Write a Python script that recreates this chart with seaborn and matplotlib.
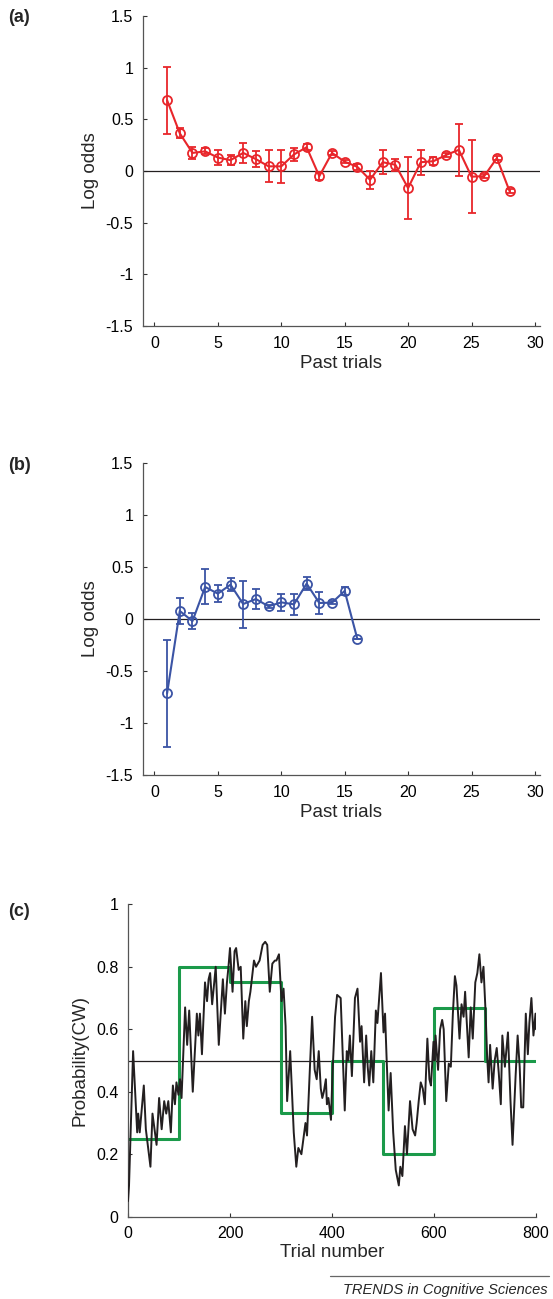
import numpy as np
import pandas as pd
import matplotlib
matplotlib.use('Agg')
import matplotlib.pyplot as plt
import seaborn as sns

# Panel (a): red series, influence of past trials
past_a = list(range(1, 29))
logodds_a = [0.685, 0.365, 0.175, 0.19, 0.13, 0.105, 0.175, 0.115, 0.045, 0.045,
             0.16, 0.23, -0.05, 0.175, 0.09, 0.04, -0.085, 0.085, 0.06, -0.165,
             0.085, 0.095, 0.155, 0.205, -0.055, -0.05, 0.125, -0.195]
err_a = [0.325, 0.05, 0.055, 0.03, 0.075, 0.045, 0.1, 0.08, 0.155, 0.16,
         0.06, 0.03, 0.04, 0.02, 0.015, 0.03, 0.085, 0.115, 0.06, 0.3,
         0.12, 0.04, 0.02, 0.25, 0.355, 0.02, 0.02, 0.02]

# Panel (b): blue series
past_b = list(range(1, 17))
logodds_b = [-0.715, 0.077, -0.02, 0.308, 0.244, 0.33, 0.144, 0.192, 0.122, 0.16,
             0.141, 0.34, 0.154, 0.157, 0.27, -0.192]
err_b = [0.515, 0.128, 0.077, 0.168, 0.08, 0.064, 0.226, 0.1, 0.015, 0.08,
         0.098, 0.064, 0.11, 0.015, 0.04, 0.0]

# Panel (c): block probabilities (green) and running estimate (black)
block_start = [0, 100, 200, 300, 400, 500, 600, 700, 800]
block_p = [0.25, 0.8, 0.75, 1/3, 0.5, 0.2, 2/3, 0.5, 0.5]

trial_t = [0, 2, 10, 18, 20, 23, 31, 35, 44, 48, 56, 61, 66, 71, 75, 79, 84, 88, 92, 95,
           99, 102, 105, 112, 116, 120, 127, 135, 138, 141, 145, 151, 155, 158, 161, 165,
           172, 178, 186, 190, 194, 197, 200, 205, 209, 212, 217, 221, 226, 230, 233, 237,
           240, 247, 251, 258, 264, 269, 273, 278, 283, 288, 291, 296, 301, 305, 309, 312,
           318, 325, 330, 334, 340, 344, 348, 351, 356, 361, 366, 370, 374, 378, 381, 384,
           388, 390, 393, 398, 401, 406, 410, 417, 425, 429, 432, 435, 439, 445, 450, 455,
           458, 463, 467, 470, 473, 477, 481, 486, 489, 496, 501, 504, 507, 511, 515, 520,
           525, 531, 534, 538, 543, 547, 553, 558, 563, 566, 570, 574, 578, 582, 587, 591,
           594, 599, 601, 603, 608, 612, 616, 619, 624, 629, 633, 637, 641, 644, 650, 654,
           658, 661, 664, 668, 672, 676, 681, 685, 689, 693, 697, 701, 704, 707, 710, 715,
           719, 723, 727, 731, 734, 739, 745, 750, 754, 760, 764, 768, 771, 775, 780, 784,
           787, 791, 795, 799, 800]
prob_cw = [0.05, 0.10, 0.53, 0.27, 0.33, 0.27, 0.42, 0.28, 0.16, 0.33, 0.23, 0.38, 0.28, 0.37,
           0.33, 0.37, 0.27, 0.42, 0.36, 0.43, 0.39, 0.44, 0.38, 0.67, 0.55, 0.66, 0.40, 0.65,
           0.58, 0.65, 0.52, 0.75, 0.69, 0.76, 0.78, 0.68, 0.80, 0.55, 0.76, 0.65, 0.75, 0.80,
           0.86, 0.72, 0.85, 0.86, 0.79, 0.80, 0.57, 0.69, 0.61, 0.69, 0.72, 0.82, 0.80, 0.82,
           0.87, 0.88, 0.87, 0.72, 0.81, 0.82, 0.82, 0.84, 0.69, 0.73, 0.61, 0.37, 0.53, 0.27,
           0.16, 0.22, 0.20, 0.25, 0.30, 0.26, 0.45, 0.64, 0.47, 0.44, 0.53, 0.41, 0.38, 0.40,
           0.44, 0.36, 0.38, 0.31, 0.46, 0.64, 0.71, 0.70, 0.34, 0.53, 0.50, 0.58, 0.45, 0.70,
           0.73, 0.56, 0.61, 0.43, 0.58, 0.48, 0.42, 0.53, 0.43, 0.66, 0.62, 0.78, 0.59, 0.65,
           0.51, 0.34, 0.46, 0.27, 0.15, 0.10, 0.16, 0.13, 0.29, 0.20, 0.37, 0.28, 0.26, 0.30,
           0.37, 0.43, 0.41, 0.36, 0.57, 0.44, 0.42, 0.56, 0.50, 0.58, 0.47, 0.60, 0.63, 0.60,
           0.37, 0.49, 0.48, 0.65, 0.77, 0.74, 0.57, 0.68, 0.64, 0.72, 0.63, 0.51, 0.67, 0.57,
           0.75, 0.78, 0.84, 0.75, 0.80, 0.66, 0.52, 0.43, 0.55, 0.41, 0.50, 0.54, 0.46, 0.36,
           0.58, 0.48, 0.59, 0.37, 0.23, 0.45, 0.58, 0.48, 0.35, 0.35, 0.65, 0.52, 0.62, 0.70,
           0.58, 0.65, 0.60]

RED = '#e8262b'
BLUE = '#3b54a5'
GREEN = '#1b9a4a'
BLACK = '#231f20'

sns.set_style('ticks')
plt.rcParams['font.family'] = ['Liberation Sans', 'DejaVu Sans']
plt.rcParams['axes.linewidth'] = 0.9
plt.rcParams['xtick.direction'] = 'in'
plt.rcParams['ytick.direction'] = 'in'

fig = plt.figure(figsize=(5.53, 12.99), dpi=100)
W, H = 553, 1299


def px_axes(left, top, right, bottom):
    return fig.add_axes([left / W, 1 - bottom / H, (right - left) / W, (bottom - top) / H])


def style_axes(ax):
    sns.despine(ax=ax)
    ax.tick_params(axis='both', labelsize=11.5, length=3, width=0.8, pad=7, colors='#333333',
                   labelcolor='black')
    for s in ['left', 'bottom']:
        ax.spines[s].set_color('#555555')


def log_odds_panel(ax, x, y, e, color):
    ax.axhline(0, color=BLACK, lw=0.9, zorder=1)
    ax.errorbar(x, y, yerr=e, fmt='none', ecolor=color, elinewidth=1.3, capsize=2.8,
                capthick=1.3, zorder=2)
    df = pd.DataFrame({'past': x, 'lo': y})
    sns.lineplot(data=df, x='past', y='lo', ax=ax, color=color, lw=1.5, marker='o',
                 markersize=6.5, markerfacecolor='none', markeredgecolor=color,
                 markeredgewidth=1.3, zorder=3)
    ax.set_xlim(-0.9, 30.4)
    ax.set_ylim(-1.5, 1.5)
    ax.set_xticks([0, 5, 10, 15, 20, 25, 30])
    ax.set_yticks([-1.5, -1, -0.5, 0, 0.5, 1, 1.5])
    ax.set_yticklabels(['-1.5', '-1', '-0.5', '0', '0.5', '1', '1.5'])
    ax.set_xlabel('Past trials', fontsize=13.5, labelpad=3)
    ax.set_ylabel('Log odds', fontsize=13.5, labelpad=5)
    style_axes(ax)


ax_a = px_axes(143, 16, 540, 326)
log_odds_panel(ax_a, past_a, logodds_a, err_a, RED)

ax_b = px_axes(143, 463, 540, 775)
log_odds_panel(ax_b, past_b, logodds_b, err_b, BLUE)

ax_c = px_axes(128, 904.3, 536, 1216.7)
ax_c.axhline(0.5, color=BLACK, lw=0.9, zorder=1)
sns.lineplot(x=block_start, y=block_p, ax=ax_c, color=GREEN, lw=2.2, drawstyle='steps-post',
             zorder=2)
sns.lineplot(x=trial_t, y=prob_cw, ax=ax_c, color=BLACK, lw=1.4, zorder=3)
ax_c.set_xlim(0, 800)
ax_c.set_ylim(0, 1)
ax_c.set_xticks([0, 200, 400, 600, 800])
ax_c.set_yticks([0, 0.2, 0.4, 0.6, 0.8, 1])
ax_c.set_yticklabels(['0', '0.2', '0.4', '0.6', '0.8', '1'])
ax_c.set_xlabel('Trial number', fontsize=13.5, labelpad=2)
ax_c.set_ylabel('Probability(CW)', fontsize=13.5, labelpad=5)
style_axes(ax_c)

# panel letters
for lbl, ypx in [('(a)', 18), ('(b)', 466), ('(c)', 911)]:
    fig.text(8 / W, 1 - ypx / H, lbl, fontsize=13, fontweight='bold', va='center', ha='left')

# footer
fig.add_artist(plt.Line2D([330 / W, 549 / W], [1 - 1276 / H, 1 - 1276 / H],
                          color='#666666', lw=0.9))
fig.text(548 / W, 1 - 1290 / H, 'TRENDS in Cognitive Sciences', fontsize=10.5,
         style='italic', ha='right', va='center')

fig.savefig('out.png', dpi=100)
